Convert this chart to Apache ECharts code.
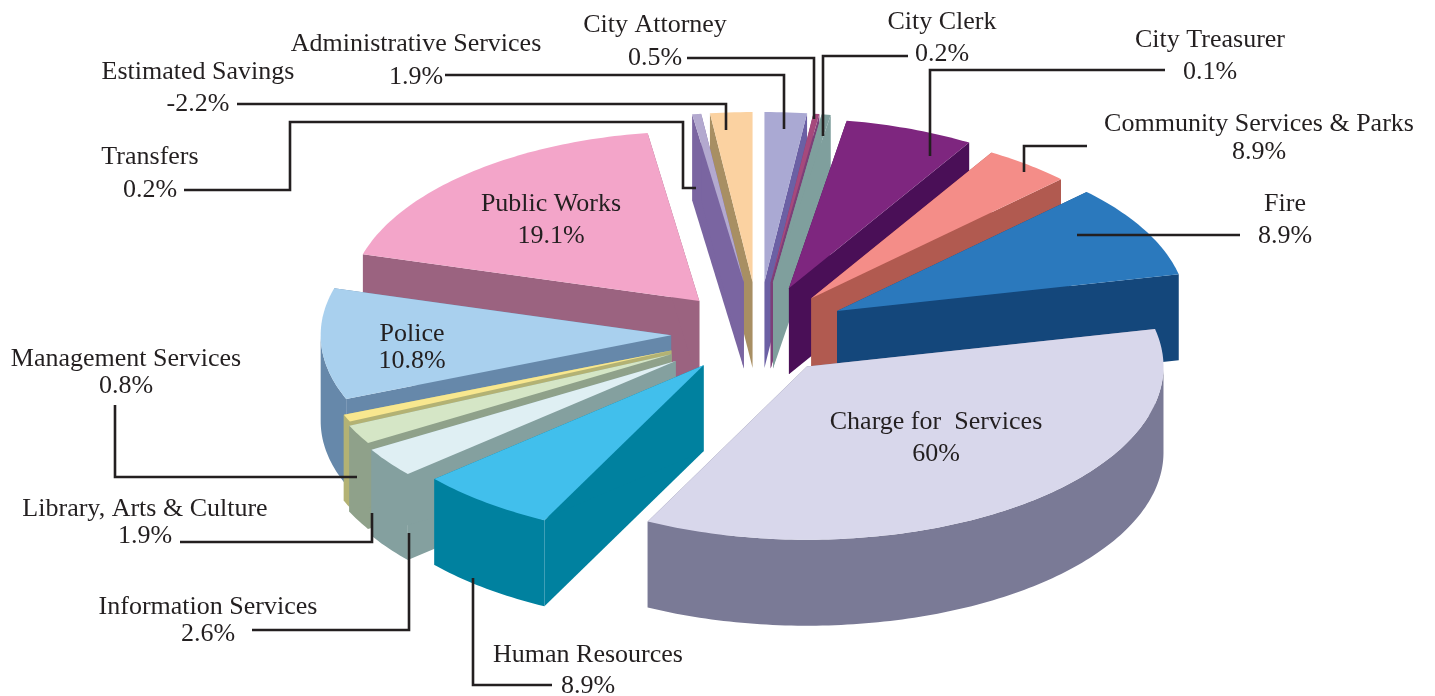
<!DOCTYPE html>
<html lang="en">
<head>
    <meta charset="UTF-8">
    <title>Budget by department</title>
    <script src="https://cdn.jsdelivr.net/npm/echarts@6/dist/echarts.min.js"></script>
    <style>
        html, body { margin: 0; padding: 0; background: #fff; }
        #main { width: 1435px; height: 696px; }
    </style>
</head>
<body>
<div id="main"></div>
<script type="text/javascript">
    // clockwise from 12 o'clock, same order as the slices in the picture
    var categories = ['Administrative Services', 'City Attorney', 'City Clerk', 'City Treasurer',
        'Community Services & Parks', 'Fire', 'Charge for  Services', 'Human Resources',
        'Information Services', 'Library, Arts & Culture', 'Management Services', 'Police',
        'Public Works', 'Transfers', 'Estimated Savings'];
    // printed percentages
    var printedPercent = [1.9, 0.5, 0.2, 0.1, 8.9, 8.9, 60, 8.9, 2.6, 1.9, 0.8, 10.8, 19.1, 0.2, -2.2];
    // the wedges are not to scale with the printed numbers, so sweep is read off the picture (degrees)
    var drawnSweep = [7, 1, 1.5, 21.5, 14.5, 32, 129, 22.5, 10, 6.5, 2.5, 38, 65.5, 1.5, 7];

    // styles and layout, same order as categories
    var topColors = ['#aaa9d3', '#a5497c', '#7f9f9d', '#7e267f', '#f48d88', '#2b79bd', '#d8d7eb', '#41bfec',
        '#dfeff3', '#d5e6c6', '#f8e78f', '#a9d0ee', '#f3a5c9', '#b3a9cf', '#fbd2a1'];
    var sideColors = ['#6b60a4', '#7c3f78', '#7f9f9d', '#4a0f57', '#b15a50', '#14477b', '#7a7a96', '#00819f',
        '#84a09f', '#8fa18a', '#b3b274', '#6688aa', '#9b6380', '#7a65a1', '#a88f63'];
    var pull = [0.30, 0.30, 0.30, 0.28, 0.26, 0.27, 0.25, 0.24, 0.28, 0.27, 0.26, 0.24, 0.25, 0.30, 0.30];
    var nudgeX = [3, 2, 2, 0, 0, -1, -2, 0, 0, 0, 0, 0, 2, 3, 4];
    var labelAt = [[416, 44, 77], [655, 25, 58], [942, 22, 54], [1210, 40, 72], [1259, 124, 152], [1285, 204, 236],
        [936, 422, 454], [588, 655, 686], [208, 607, 634], [145, 509, 536], [126, 359, 386], [412, 334, 361],
        [551, 204, 236], [150, 157, 190], [198, 72, 104]];
    var leaders = [
        [[445, 75], [784, 75], [784, 129]],
        [[687, 58], [814, 58], [814, 119]],
        [[908, 56], [823, 56], [823, 136]],
        [[1165, 70], [930, 70], [930, 156]],
        [[1087, 146], [1024, 146], [1024, 172]],
        [[1240, 235], [1077, 235]],
        [],
        [[552, 685], [473, 685], [473, 578]],
        [[252, 630], [409, 630], [409, 533]],
        [[180, 542], [372, 542], [372, 513]],
        [[115, 405], [115, 477], [357, 477]],
        [],
        [],
        [[184, 190], [290, 190], [290, 122], [683, 122], [683, 188], [696, 188]],
        [[237, 104], [726, 104], [726, 130]]
    ];

    var pieX = 755, pieY = 333, radiusX = 350, radiusY = 170, depth = 86;
    var font = '"Liberation Serif", serif', inkColor = '#231f20';

    var rad = Math.PI / 180;
    var slices = [], angle = -90;
    for (var i = 0; i < categories.length; i++) {
        var mid = angle + drawnSweep[i] / 2;
        slices.push({index: i, start: angle, end: angle + drawnSweep[i], mid: mid});
        angle += drawnSweep[i];
    }
    // back slices first so nearer ones paint over them
    slices.sort(function (a, b) { return Math.sin(a.mid * rad) - Math.sin(b.mid * rad); });

    function renderSlice(params, api) {
        var s = slices[params.dataIndex];
        var i = s.index;
        var sm = Math.sin(s.mid * rad), cm = Math.cos(s.mid * rad);
        var grow = 1 + 0.024 * Math.max(0, sm);
        var ax = pieX + nudgeX[i] + pull[i] * radiusX * cm, ay = pieY + pull[i] * radiusY * sm;

        function rimPoint(t) {
            return [ax + radiusX * grow * Math.cos(t * rad), ay + radiusY * grow * Math.sin(t * rad)];
        }
        var rim = [], front = [];
        for (var t = s.start; t < s.end; t += 1) {
            rim.push(rimPoint(t));
            if (t >= 0 && t <= 180) front.push(rimPoint(t));
        }
        rim.push(rimPoint(s.end));
        // only the near half of the rim has a visible wall, the far half would fold over itself
        if (s.end >= 0 && s.end <= 180) front.push(rimPoint(s.end));
        if (s.start < 0 && s.end > 0) front.unshift(rimPoint(0));
        if (s.start < 180 && s.end > 180) front.push(rimPoint(180));

        function down(p) { return [p[0], p[1] + depth]; }
        function toPx(list) { return list.map(function (p) { return api.coord(p); }); }

        var apex = [ax, ay];
        var first = rim[0], last = rim[rim.length - 1];
        var children = [
            {type: 'polygon', shape: {points: toPx([apex, first, down(first), down(apex)])}, style: {fill: sideColors[i]}},
            {type: 'polygon', shape: {points: toPx([apex, last, down(last), down(apex)])}, style: {fill: sideColors[i]}}
        ];
        if (front.length > 1) {
            children.push({
                type: 'polygon',
                shape: {points: toPx(front.concat(front.map(down).reverse()))},
                style: {fill: sideColors[i]}
            });
        }
        children.push({type: 'polygon', shape: {points: toPx([apex].concat(rim))}, style: {fill: topColors[i]}});
        return {type: 'group', children: children};
    }

    function renderLeader(params, api) {
        var route = leaders[params.dataIndex].map(function (p) { return api.coord(p); });
        return {
            type: 'polyline',
            shape: {points: route},
            style: {stroke: inkColor, lineWidth: 2.6, fill: 'none'}
        };
    }

    function renderLabel(params, api) {
        var i = params.dataIndex;
        var at = labelAt[i];
        function line(text, y) {
            var p = api.coord([at[0], y]);
            return {
                type: 'text',
                x: p[0], y: p[1],
                style: {text: text, fill: inkColor, font: '26px ' + font, textAlign: 'center', textVerticalAlign: 'middle'}
            };
        }
        return {type: 'group', children: [line(categories[i], at[1]), line(printedPercent[i] + '%', at[2])]};
    }

    var myChart = echarts.init(document.getElementById('main'));
    var option = {
        animation: false,
        backgroundColor: '#ffffff',
        grid: {left: 0, right: 0, top: 0, bottom: 0},
        xAxis: {type: 'value', min: 0, max: 1435, show: false},
        yAxis: {type: 'value', min: 0, max: 696, inverse: true, show: false},
        series: [
            {
                type: 'custom', name: 'slices', silent: true, clip: false,
                renderItem: renderSlice,
                data: slices.map(function (s) { return [printedPercent[s.index], drawnSweep[s.index]]; })
            },
            {
                type: 'custom', name: 'leaders', silent: true, clip: false,
                renderItem: renderLeader,
                data: categories.map(function (c, i) { return [i]; }),
                z: 3
            },
            {
                type: 'custom', name: 'labels', silent: true, clip: false,
                renderItem: renderLabel,
                data: categories.map(function (c, i) { return [i]; }),
                z: 4
            }
        ]
    };
    myChart.setOption(option);
</script>
</body>
</html>
